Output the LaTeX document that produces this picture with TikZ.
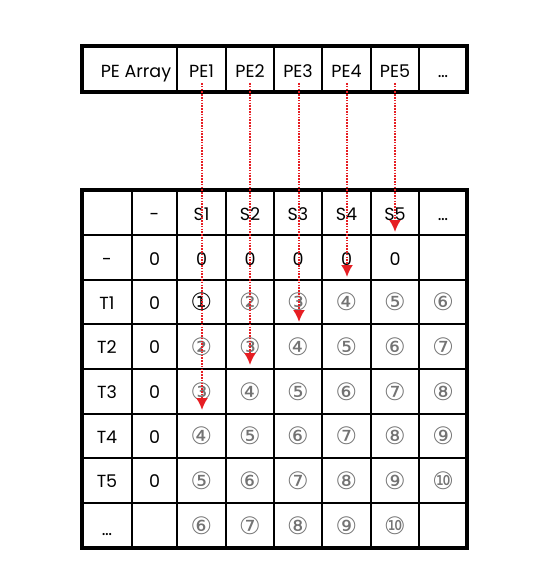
\documentclass[tikz,border=0pt]{standalone}
\usepackage{fontspec}
\usetikzlibrary{arrows.meta}
\setmainfont{Poppins}
\newfontfamily\circfont{DejaVu Sans}
\definecolor{arrowred}{RGB}{230,30,35}
\definecolor{circgray}{RGB}{115,115,115}
\begin{document}
\begin{tikzpicture}[x=1pt,y=-1pt,
  cell/.style={inner sep=0pt,anchor=base,font=\fontsize{17.5}{17.5}\selectfont},
  circ/.style={inner sep=0pt,font=\circfont\fontsize{24}{24}\selectfont,text=circgray},
  thinline/.style={line width=1.4pt},
  thickline/.style={line width=3.4pt},
  pearrow/.style={arrowred,line width=2pt,dash pattern=on 1.6pt off 1.2pt,-{Latex[length=12pt,width=12pt]}}
  ]
\useasboundingbox (0,0) rectangle (550,588);
% ---- PE array ----
\foreach \x in {177,226,274,322,371,419} \draw[thinline] (\x,46) -- (\x,92);
\draw[thickline] (82,46) rectangle (467,92);
\node[cell] (pea) at (136,78) {PE Array};
\node[cell] (pe1) at (201.5,78) {PE1};
\node[cell] (pe2) at (250,78) {PE2};
\node[cell] (pe3) at (298,78) {PE3};
\node[cell] (pe4) at (346.5,78) {PE4};
\node[cell] (pe5) at (395,78) {PE5};
\node[cell] (ped) at (443,78) {\dots};
% ---- table ----
\foreach \x in {132,177,226,274,322,371,419} \draw[thinline] (\x,190) -- (\x,548);
\foreach \y in {235,280,324,369,414,458,503} \draw[thinline] (82,\y) -- (467,\y);
\draw[thickline] (82,190) rectangle (467,548);
% header row
\node[cell] (h1) at (154.5,220) {-};
\node[cell] (hs1) at (201.5,220) {S1};
\node[cell] (hs2) at (250,220) {S2};
\node[cell] (hs3) at (298,220) {S3};
\node[cell] (hs4) at (346.5,220) {S4};
\node[cell] (hs5) at (395,220) {S5};
\node[cell] (hsd) at (443,220) {\dots};
% zero row
\node[cell] (r0a) at (107,265) {-};
\node[cell] (r0b) at (154.5,265) {0};
\node[cell] (r0c) at (201.5,265) {0};
\node[cell] (r0d) at (250,265) {0};
\node[cell] (r0e) at (298,265) {0};
\node[cell] (r0f) at (346.5,265) {0};
\node[cell] (r0g) at (395,265) {0};
% T rows
\foreach \i/\y in {1/309,2/353.5,3/398.5,4/443,5/487.5}{
  \node[cell] (t\i) at (107,\y) {T\i};
  \node[cell] (z\i) at (154.5,\y) {0};
}
\foreach \i/\y in {1/302,2/346.5,3/391.5,4/436,5/480.5,6/525.5}{
  \foreach \j/\x in {1/201.5,2/250,3/298,4/346.5,5/395,6/443}{
    \pgfmathtruncatemacro{\n}{\i+\j-1}
    \ifnum\n<11
      \ifnum\i<6
        \ifnum\n>1
          \node[circ] (c\i\j) at (\x,\y) {\ifcase\n\or ①\or ②\or ③\or ④\or ⑤\or ⑥\or ⑦\or ⑧\or ⑨\or ⑩\fi};
        \fi
      \else
        \ifnum\j<6
          \node[circ] (c\i\j) at (\x,\y) {\ifcase\n\or ①\or ②\or ③\or ④\or ⑤\or ⑥\or ⑦\or ⑧\or ⑨\or ⑩\fi};
        \fi
      \fi
    \fi
  }
}
\node[circ,text=black] (c11) at (201.5,302) {①};
\node[cell] (dl) at (107,535) {\dots};
% ---- arrows ----
\coordinate (s1) at (202,83); \coordinate (e1) at (202,410);
\coordinate (s2) at (250,83); \coordinate (e2) at (250,365);
\coordinate (s3) at (299,83); \coordinate (e3) at (299,322);
\coordinate (s4) at (347,83); \coordinate (e4) at (347,277);
\coordinate (s5) at (395,83); \coordinate (e5) at (395,232);
\foreach \k in {1,...,5} \draw[pearrow] (s\k) -- (e\k);
\end{tikzpicture}
\end{document}
